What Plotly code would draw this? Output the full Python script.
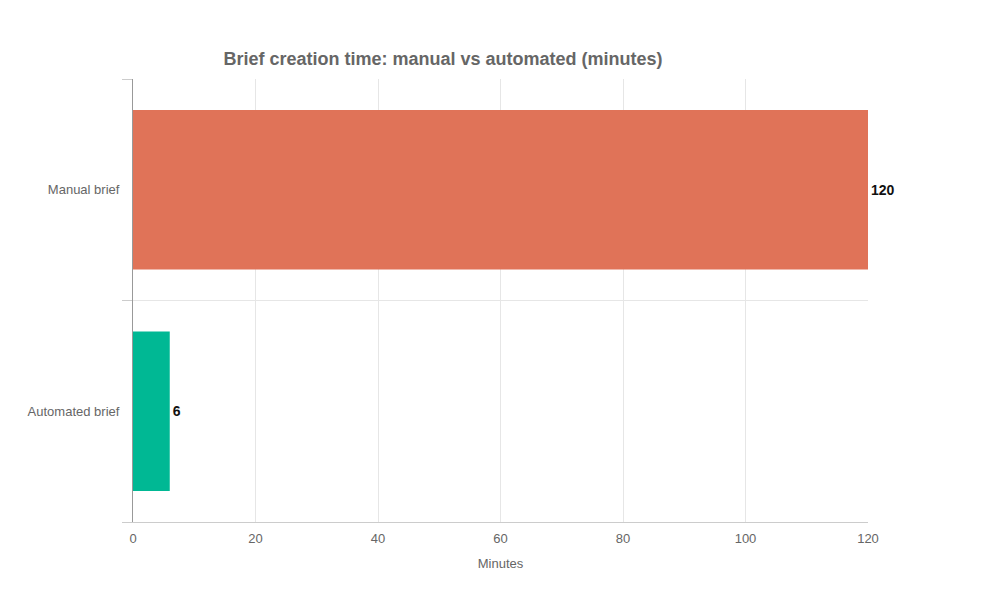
import plotly.graph_objects as go

categories = ['Manual brief', 'Automated brief']
minutes = [120, 6]
colors = ['#E07358', '#00B894']
ypos = [1, 0]

fig = go.Figure()
fig.add_trace(go.Bar(
  x=minutes, y=ypos, orientation='h', width=0.72,
  marker={'color': colors, 'line': {'width': 0}},
  text=[str(m) for m in minutes], textposition='outside', cliponaxis=False,
  textfont={'family': 'Liberation Sans, Arial', 'size': 14, 'color': '#111111', 'weight': 'bold'},
  showlegend=False))

fig.update_layout(
  width=1000, height=600,
  paper_bgcolor='white', plot_bgcolor='white',
  margin={'l': 125, 'r': 140, 't': 71, 'b': 86},
  font={'family': 'Liberation Sans, Arial', 'color': '#666666', 'size': 13},
  title={'text': '<b>Brief creation time: manual vs automated (minutes)</b>',
         'x': 0.435, 'xref': 'container', 'xanchor': 'center',
         'y': 0.915, 'yref': 'container', 'yanchor': 'middle',
         'font': {'size': 18, 'color': '#666666'}},
  xaxis={'range': [0, 120], 'dtick': 20, 'showgrid': True, 'gridcolor': '#e6e6e6',
         'showline': True, 'linecolor': '#cccccc', 'zeroline': False,
         'title': {'text': 'Minutes', 'font': {'size': 13}, 'standoff': 14},
         'ticks': '', 'ticklabelstandoff': 4},
  yaxis={'range': [-0.5, 1.5], 'tickvals': ypos, 'ticktext': categories,
         'showgrid': False, 'zeroline': False, 'showline': True, 'linecolor': '#999999',
         'ticks': '', 'ticklabelstandoff': 10,
         'minor': {'tick0': -0.5, 'dtick': 1, 'showgrid': True, 'gridcolor': '#e6e6e6',
                   'ticks': 'outside', 'ticklen': 10, 'tickcolor': '#cccccc'}},
)

fig.write_html('out.html')
